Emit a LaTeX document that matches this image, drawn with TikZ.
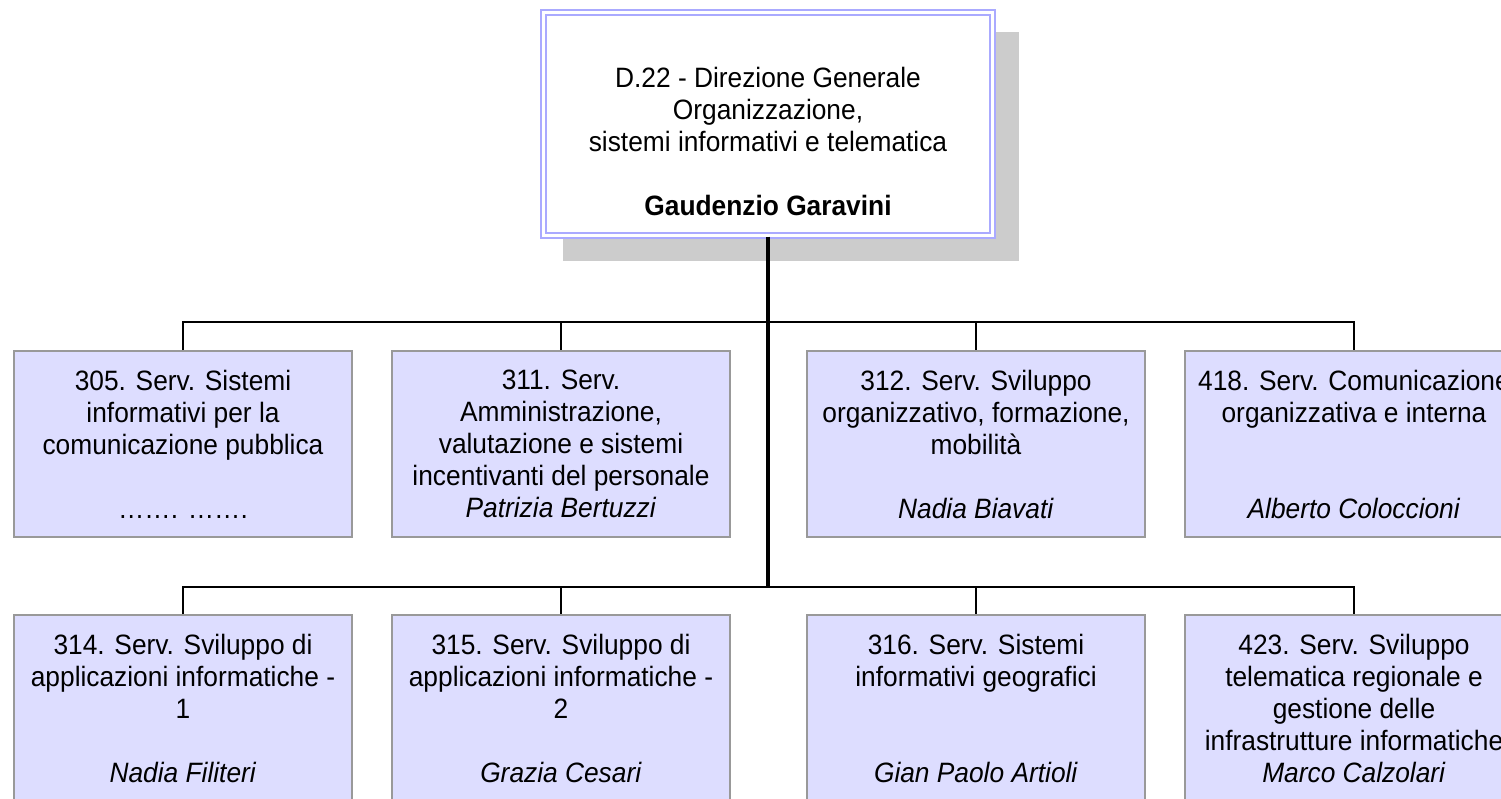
\documentclass[tikz,border=0pt]{standalone}
\usepackage{fontspec}
\setmainfont[FakeStretch=0.94]{Liberation Sans}
\definecolor{boxfill}{HTML}{DDDDFF}
\definecolor{boxline}{HTML}{999999}
\definecolor{shadowgray}{HTML}{CCCCCC}
\definecolor{topline}{HTML}{AAAAFF}
\begin{document}
\begin{tikzpicture}[x=1pt,y=-1pt,
  unitbox/.style={draw=boxline, line width=2pt, fill=boxfill, minimum width=338pt,
    minimum height=186pt, align=center, inner sep=0pt,
    font=\fontsize{28}{32}\selectfont},
  headbox/.style={draw=topline, fill=white, line width=2.5pt, double=white,
    double distance=2.5pt, minimum width=449pt, minimum height=223pt, inner sep=0pt},
  headtext/.style={align=center, inner sep=0pt, font=\fontsize{28}{32}\selectfont},
  conn/.style={line width=2pt},
  trunkline/.style={line width=3.5pt}]
\useasboundingbox (0,0) rectangle (1501,799);
\clip (0,0) rectangle (1501,799);
\fill[shadowgray] (563,32) rectangle (1019,261);
\node[headbox] (top) at (768,124) {};
\node[headtext] (toptext) at (768,141) {D.22 - Direzione Generale\\Organizzazione,\\sistemi informativi e telematica\\\strut\\\textbf{Gaudenzio Garavini}};
\node[unitbox] (a1) at (183,444) {305. Serv. Sistemi\\informativi per la\\comunicazione pubblica\\\strut\\……. …….};
\node[unitbox] (a2) at (561,444) {311. Serv.\\Amministrazione,\\valutazione e sistemi\\incentivanti del personale\\\textit{Patrizia Bertuzzi}};
\node[unitbox] (a3) at (976,444) {312. Serv. Sviluppo\\organizzativo, formazione,\\mobilità\\\strut\\\textit{Nadia Biavati}};
\node[unitbox] (a4) at (1354,444) {418. Serv. Comunicazione\\organizzativa e interna\\\strut\\\strut\\\textit{Alberto Coloccioni}};
\node[unitbox] (b1) at (183,708) {314. Serv. Sviluppo di\\applicazioni informatiche -\\1\\\strut\\\textit{Nadia Filiteri}};
\node[unitbox] (b2) at (561,708) {315. Serv. Sviluppo di\\applicazioni informatiche -\\2\\\strut\\\textit{Grazia Cesari}};
\node[unitbox] (b3) at (976,708) {316. Serv. Sistemi\\informativi geografici\\\strut\\\strut\\\textit{Gian Paolo Artioli}};
\node[unitbox] (b4) at (1354,708) {423. Serv. Sviluppo\\telematica regionale e\\gestione delle\\infrastrutture informatiche\\\textit{Marco Calzolari}};
\coordinate (busA) at (768,322);
\coordinate (busB) at (768,587);
\draw[conn] (a1.north) -- (a1.north |- busA) -- (a4.north |- busA) -- (a4.north);
\draw[conn] (busA) -| (a2.north);
\draw[conn] (busA) -| (a3.north);
\draw[conn] (b1.north) -- (b1.north |- busB) -- (b4.north |- busB) -- (b4.north);
\draw[conn] (busB) -| (b2.north);
\draw[conn] (busB) -| (b3.north);
\draw[trunkline] (top.south) -- (busB);
\end{tikzpicture}
\end{document}
